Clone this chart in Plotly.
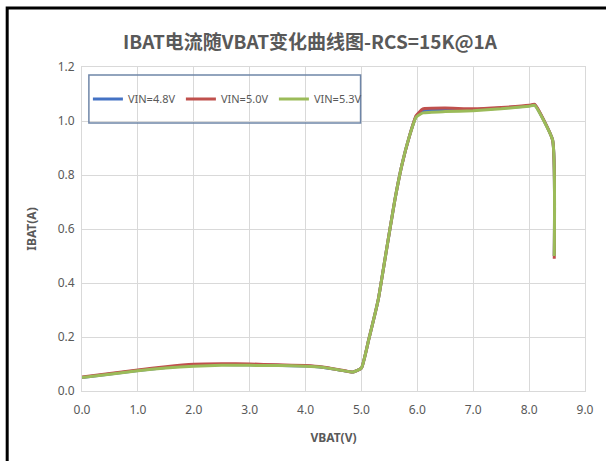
import plotly.graph_objects as go

title_text = "IBAT电流随VBAT变化曲线图-RCS=15K@1A"
series_names = ["VIN=4.8V", "VIN=5.0V", "VIN=5.3V"]
series_colors = ["#4472C4", "#C0504D", "#9BBB59"]

vbat = [0.0, 0.5, 1.0, 1.5, 2.0, 2.5, 3.0, 3.5, 4.0, 4.3, 4.6, 4.85, 5.0, 5.13,
        5.3, 5.42, 5.51, 5.6, 5.72, 5.86, 5.98, 6.1, 6.5, 7.0, 7.5, 8.0, 8.1, 8.42, 8.45]

ibat_48 = [0.050, 0.063, 0.076, 0.087, 0.095, 0.098, 0.097, 0.095, 0.093, 0.088, 0.078, 0.070,
           0.085, 0.190, 0.338, 0.487, 0.600, 0.710, 0.834, 0.945, 1.018, 1.038, 1.042, 1.042,
           1.048, 1.056, 1.060, 0.930, 0.500]
ibat_50 = [0.052, 0.065, 0.078, 0.090, 0.099, 0.101, 0.100, 0.097, 0.094, 0.089, 0.079, 0.070,
           0.085, 0.190, 0.338, 0.487, 0.600, 0.710, 0.834, 0.945, 1.020, 1.045, 1.048, 1.045,
           1.050, 1.058, 1.062, 0.930, 0.490]
ibat_53 = [0.050, 0.062, 0.075, 0.085, 0.092, 0.095, 0.095, 0.094, 0.092, 0.088, 0.078, 0.070,
           0.085, 0.190, 0.338, 0.487, 0.600, 0.710, 0.834, 0.945, 1.015, 1.030, 1.035, 1.038,
           1.045, 1.055, 1.058, 0.930, 0.500]

x_ticks = [0, 1, 2, 3, 4, 5, 6, 7, 8, 9]
x_tick_labels = ["0.0", "1.0", "2.0", "3.0", "4.0", "5.0", "6.0", "7.0", "8.0", "9.0"]
y_ticks = [0, 0.2, 0.4, 0.6, 0.8, 1.0, 1.2]
y_tick_labels = ["0.0", "0.2", "0.4", "0.6", "0.8", "1.0", "1.2"]

W, H = 606, 461
ML, MR, MT, MB = 82, 13, 67, 70
PW, PH = W - ML - MR, H - MT - MB

def px_x(p):
    return (p - ML) / PW

def px_y(p):
    return (H - MB - p) / PH

fig = go.Figure()
for name, color, ys in zip(series_names, series_colors, [ibat_48, ibat_50, ibat_53]):
    fig.add_trace(go.Scatter(x=vbat, y=ys, mode="lines", name=name,
                             line=dict(color=color, width=3, shape="spline", smoothing=0.4)))

tick_font = dict(family="Noto Sans", size=12, color="#595959")

fig.update_layout(
    width=W, height=H,
    margin=dict(l=ML, r=MR, t=MT, b=MB),
    paper_bgcolor="white", plot_bgcolor="white",
    title=dict(text=title_text, xref="container", yref="container",
               x=310 / W, xanchor="center", y=1 - 42 / H, yanchor="middle",
               font=dict(family="Noto Sans CJK SC", size=19, color="#595959", weight="bold")),
    xaxis=dict(range=[0, 9], tickvals=x_ticks, ticktext=x_tick_labels, showgrid=True,
               gridcolor="#D9D9D9", gridwidth=1, zeroline=False, showline=True,
               linecolor="#D9D9D9", mirror=True, ticks="", tickfont=tick_font, ticklabelstandoff=8,
               title=dict(text="VBAT(V)", standoff=16,
                          font=dict(family="Noto Sans", size=12, color="#595959", weight="bold"))),
    yaxis=dict(range=[0, 1.2], tickvals=y_ticks, ticktext=y_tick_labels, showgrid=True,
               gridcolor="#D9D9D9", gridwidth=1, zeroline=False, showline=True,
               linecolor="#D9D9D9", mirror=True, ticks="", tickfont=tick_font, ticklabelstandoff=4,
               title=dict(text="IBAT(A)", standoff=18,
                          font=dict(family="Noto Sans", size=12, color="#595959", weight="bold"))),
    legend=dict(orientation="h", x=px_x(88), y=px_y(99), xanchor="left", yanchor="middle",
                bgcolor="rgba(0,0,0,0)", font=dict(family="Noto Sans", size=11, color="#595959"),
                entrywidth=48, entrywidthmode="pixels", itemwidth=30),
    showlegend=True,
    shapes=[
        dict(type="rect", xref="paper", yref="paper", x0=px_x(89), x1=px_x(365),
             y0=px_y(123), y1=px_y(75), line=dict(color="#6F86A8", width=1.5),
             fillcolor="rgba(0,0,0,0)", layer="above"),
        dict(type="rect", xref="paper", yref="paper", x0=px_x(6), x1=px_x(640),
             y0=px_y(500), y1=px_y(8), line=dict(color="black", width=3),
             fillcolor="rgba(0,0,0,0)", layer="above"),
    ],
)

fig.write_html("out.html", config={"displayModeBar": False},
               post_script="document.body.style.margin='0px';")
